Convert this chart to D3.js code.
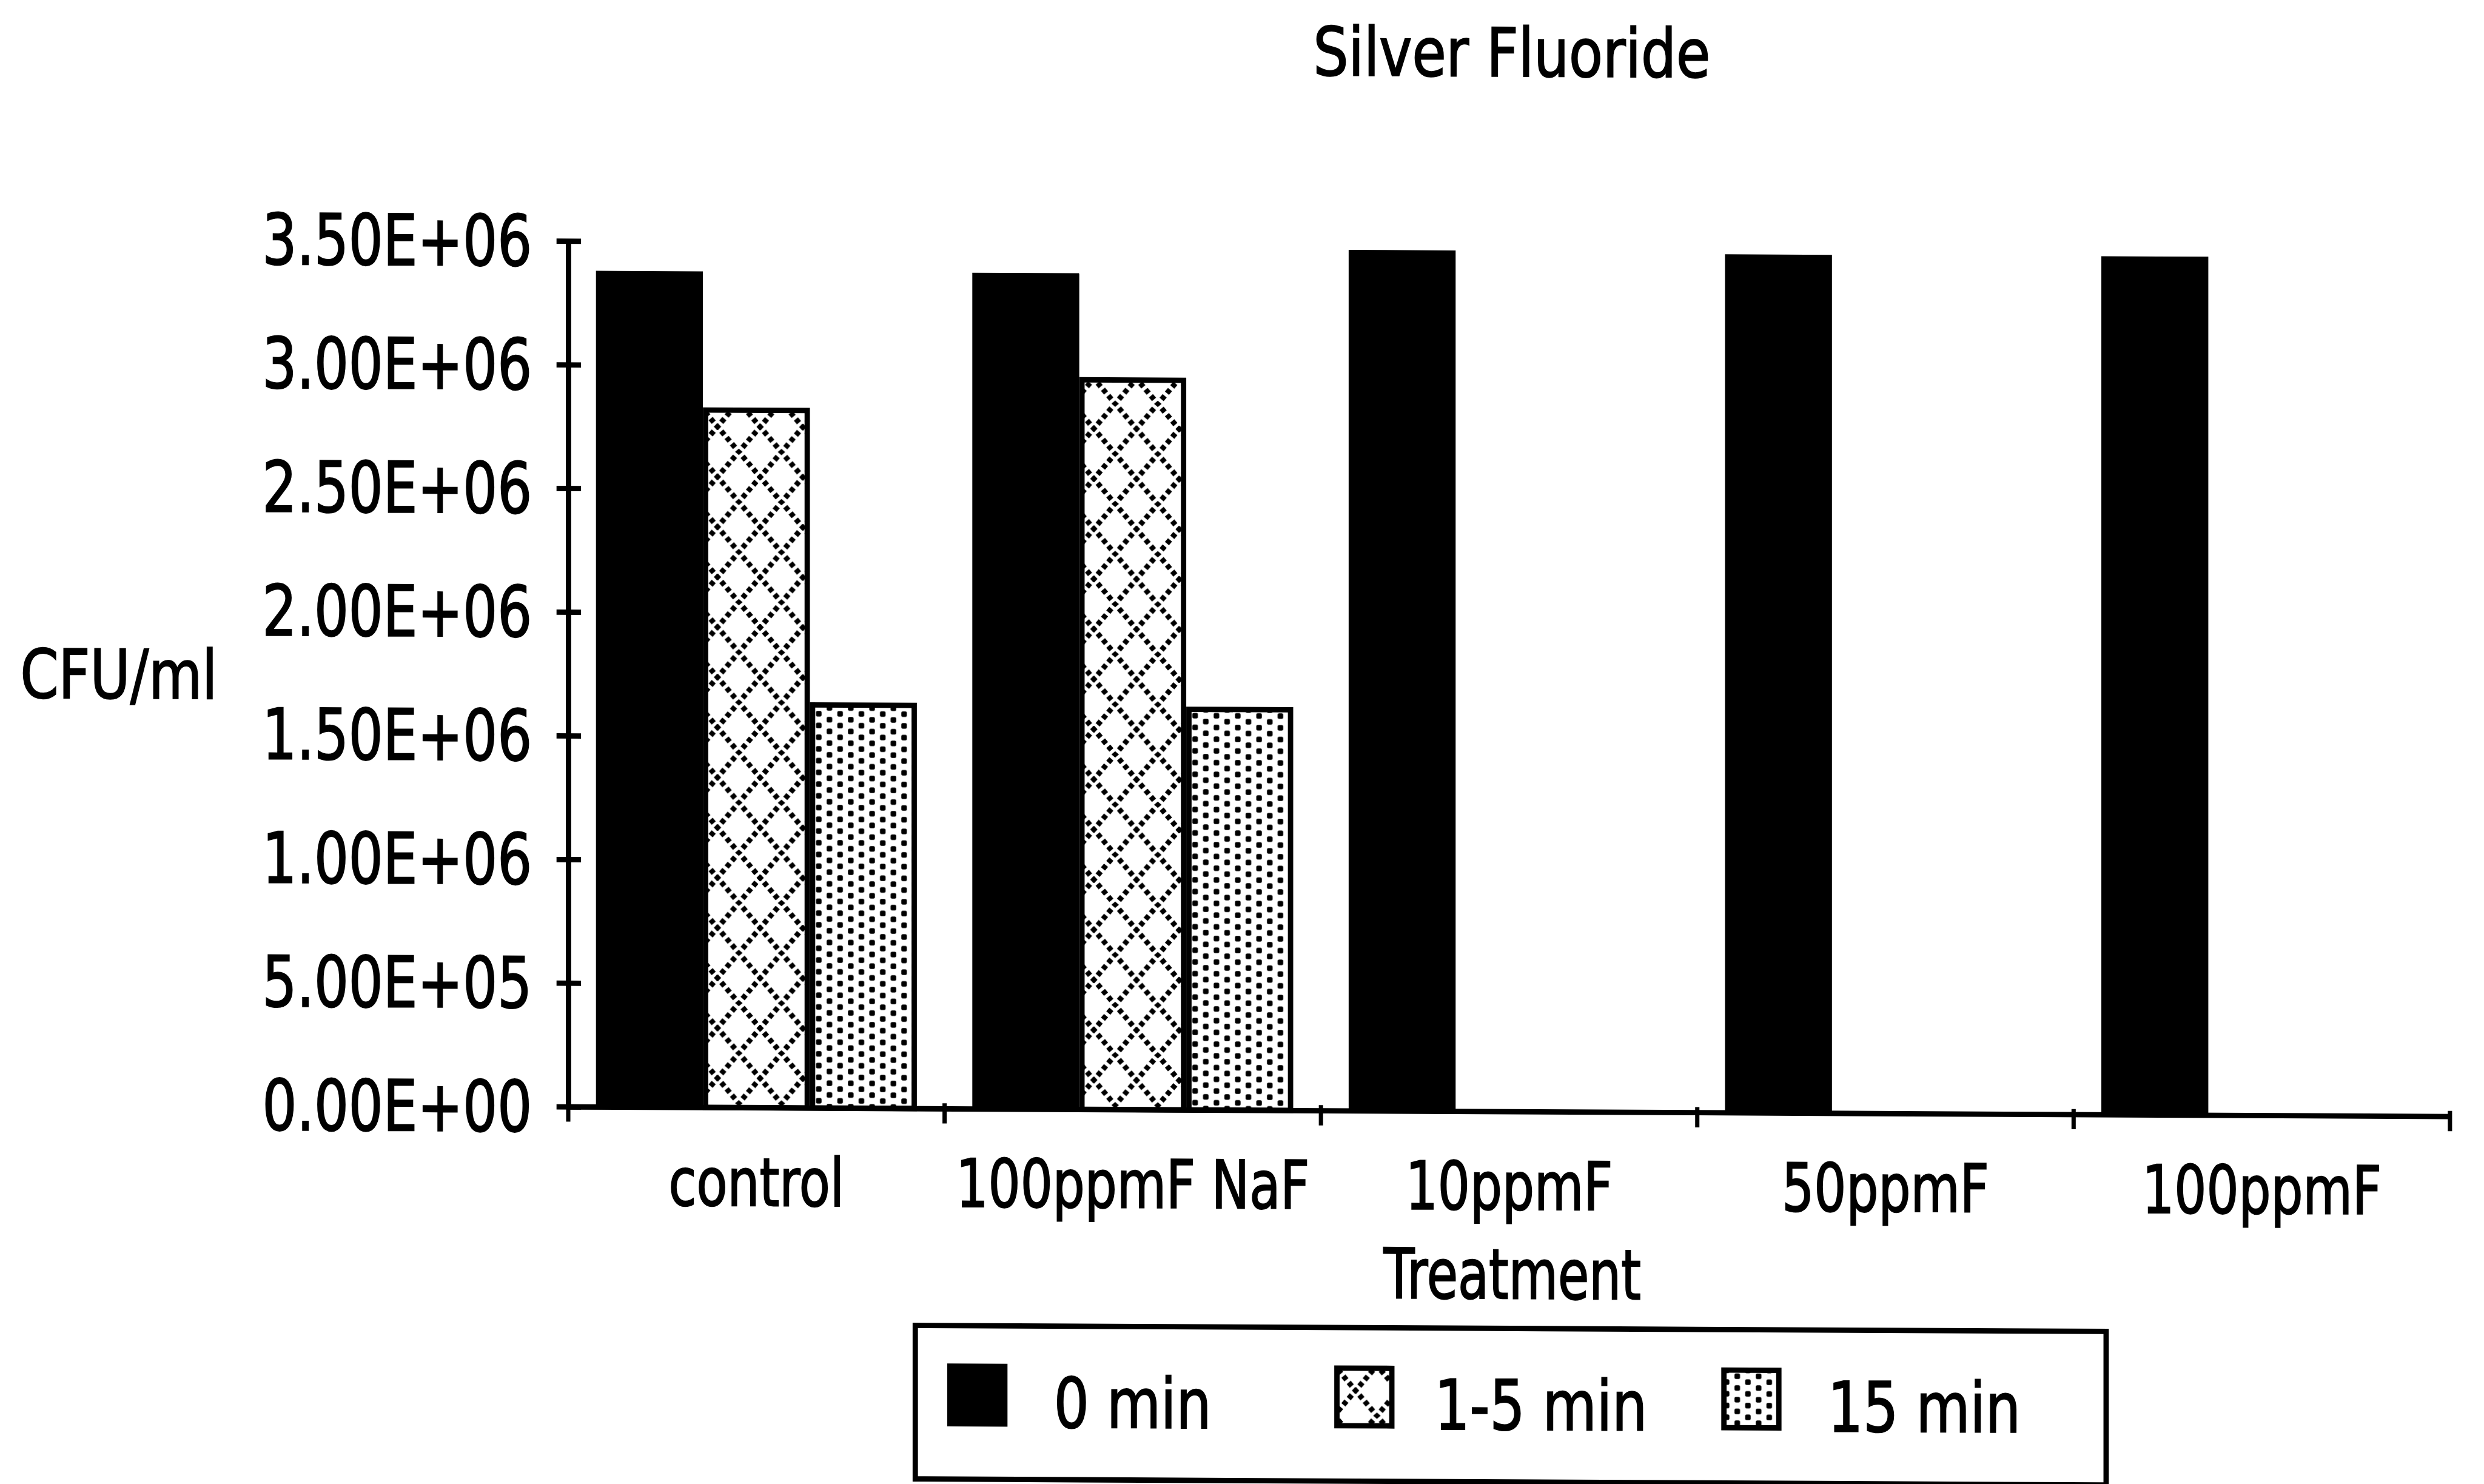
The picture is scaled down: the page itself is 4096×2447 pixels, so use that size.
<!DOCTYPE html>
<html>
<head>
<meta charset="utf-8">
<script src="https://cdn.jsdelivr.net/npm/d3@7"></script>
<style>
  html, body { margin: 0; padding: 0; background: #fff; }
  svg { display: block; }
</style>
</head>
<body>
<script>
// ---- data ----
const categories = ["control", "100ppmF NaF", "10ppmF", "50ppmF", "100ppmF"];
const seriesNames = ["0 min", "1-5 min", "15 min"];
const min0 = [3.38e6, 3.38e6, 3.48e6, 3.47e6, 3.47e6];
const min1to5 = [2.83e6, 2.96e6, 0, 0, 0];
const min15 = [1.64e6, 1.63e6, 0, 0, 0];
const yTickValues = [0, 5e5, 1e6, 1.5e6, 2e6, 2.5e6, 3e6, 3.5e6];
const yTickLabels = ["0.00E+00", "5.00E+05", "1.00E+06", "1.50E+06",
                     "2.00E+06", "2.50E+06", "3.00E+06", "3.50E+06"];
const chartTitle = "Silver Fluoride";
const xTitle = "Treatment";
const yTitle = "CFU/ml";

// ---- layout (drawing units, scaled down to the window) ----
const W = 4096, H = 2447, S = 0.879;
const lean = 0.0051;                       // the drawing leans slightly downward to the right
const plot = { left: 1066, right: 4596, top: 452, bottom: 2076 };
const FONT = "DejaVu Sans";

const table = categories.map((c, i) => ({
  category: c,
  values: [min0[i], min1to5[i], min15[i]]
}));

const svg = d3.select("body").append("svg")
  .attr("width", W).attr("height", H)
  .attr("viewBox", `0 0 ${W} ${H}`);
svg.append("rect").attr("width", W).attr("height", H).attr("fill", "#fff");

const defs = svg.append("defs");

// dotted diamond lattice for "1-5 min"
{
  const cw = 80, ch = 94;
  const L = Math.hypot(cw, ch), per = L / 8, dash = per * 0.58;
  const p = defs.append("pattern").attr("id", "pat-cross")
    .attr("patternUnits", "userSpaceOnUse").attr("width", cw).attr("height", ch);
  p.append("rect").attr("width", cw).attr("height", ch).attr("fill", "#fff");
  p.selectAll("line").data([[0, 0, cw, ch], [cw, 0, 0, ch]]).join("line")
    .attr("x1", d => d[0]).attr("y1", d => d[1])
    .attr("x2", d => d[2]).attr("y2", d => d[3])
    .attr("stroke", "#000").attr("stroke-width", 10)
    .attr("stroke-dasharray", `${dash} ${per - dash}`)
    .attr("stroke-dashoffset", dash / 2);
}
// staggered dot screen for "15 min"
{
  const dw = 40, dh = 22, s = 10.5;
  const p = defs.append("pattern").attr("id", "pat-dots")
    .attr("patternUnits", "userSpaceOnUse").attr("width", dw).attr("height", dh);
  p.append("rect").attr("width", dw).attr("height", dh).attr("fill", "#fff");
  p.selectAll("rect.dot").data([[10, 5.5], [30, 16.5]]).join("rect")
    .attr("class", "dot")
    .attr("x", d => d[0] - s / 2).attr("y", d => d[1] - s / 2)
    .attr("width", s).attr("height", s).attr("rx", 3).attr("fill", "#000");
}
const fills = ["#000", "url(#pat-cross)", "url(#pat-dots)"];

const root = svg.append("g")
  .attr("transform", `scale(${S}) translate(0,${-plot.left * lean}) skewY(${Math.atan(lean) * 180 / Math.PI})`);

// squeeze text horizontally to the narrow face used on the chart
function squeeze(sel, k) {
  sel.each(function () {
    const w = this.getComputedTextLength();
    d3.select(this).attr("textLength", w * k).attr("lengthAdjust", "spacingAndGlyphs");
  });
}
function ink(sel) {
  sel.attr("fill", "#000").attr("stroke", "#000").attr("stroke-width", 2.5);
}

// ---- scales ----
const x0 = d3.scaleBand().domain(categories).range([plot.left, plot.right]).padding(0);
const x1 = d3.scaleBand().domain(seriesNames).range([52, x0.bandwidth() - 52]).padding(0);
const y = d3.scaleLinear().domain([0, 3.5e6]).range([plot.bottom, plot.top]);

// ---- bars ----
const OUT = 10;
const groups = root.append("g").selectAll("g").data(table).join("g")
  .attr("transform", d => `translate(${x0(d.category)},0)`);
groups.selectAll("rect")
  .data(d => d.values.map((v, i) => ({ v, i, name: seriesNames[i] })))
  .join("rect")
  .attr("x", d => x1(d.name) + (d.i === 0 ? 0 : OUT / 2))
  .attr("width", d => x1.bandwidth() - (d.i === 0 ? 0 : OUT))
  .attr("y", d => y(d.v) + (d.i === 0 ? 0 : OUT / 2))
  .attr("height", d => Math.max(0, y(0) - y(d.v) - (d.i === 0 ? 0 : OUT / 2)))
  .attr("fill", d => fills[d.i])
  .attr("stroke", d => d.i === 0 ? "none" : "#000")
  .attr("stroke-width", OUT);

// ---- y axis ----
const yAxis = root.append("g").attr("transform", `translate(${plot.left},0)`)
  .call(d3.axisLeft(y).tickValues(yTickValues)
    .tickFormat((d, i) => yTickLabels[i]).tickSizeOuter(0));
yAxis.attr("font-family", null).attr("font-size", null);
yAxis.select(".domain").attr("stroke", "#000").attr("stroke-width", 10);
yAxis.selectAll(".tick line").attr("x1", -22).attr("x2", 24)
  .attr("stroke", "#000").attr("stroke-width", 10);
yAxis.selectAll(".tick text")
  .attr("x", -68).attr("dy", null).attr("y", 46)
  .attr("font-family", FONT).attr("font-size", 132)
  .attr("text-anchor", "end")
  .attr("textLength", 506).attr("lengthAdjust", "spacingAndGlyphs")
  .call(ink);

// ---- x axis ----
const xAxis = root.append("g").attr("transform", `translate(0,${plot.bottom})`)
  .call(d3.axisBottom(x0).tickSize(0).tickSizeOuter(0));
xAxis.attr("font-family", null).attr("font-size", null);
xAxis.select(".domain").attr("stroke", "#000").attr("stroke-width", 10);
const xLabels = xAxis.selectAll(".tick text")
  .attr("y", 184).attr("dy", null)
  .attr("font-family", FONT).attr("font-size", 125).call(ink);
squeeze(xLabels, 0.76);
// category boundary ticks
xAxis.append("g").selectAll("line")
  .data(categories.map(c => x0(c)).concat([x0.range()[1]]))
  .join("line")
  .attr("x1", d => d).attr("x2", d => d)
  .attr("y1", -10).attr("y2", 28)
  .attr("stroke", "#000").attr("stroke-width", 8);

// ---- titles ----
const titleMid = (plot.left + plot.right) / 2 + 5;
squeeze(root.append("text").text(chartTitle)
  .attr("x", titleMid).attr("y", 134).attr("text-anchor", "middle")
  .attr("font-family", FONT).attr("font-size", 126).call(ink), 0.825);
squeeze(root.append("text").text(xTitle)
  .attr("x", titleMid + 1).attr("y", 2427).attr("text-anchor", "middle")
  .attr("font-family", FONT).attr("font-size", 130).call(ink), 0.73);
squeeze(root.append("text").text(yTitle)
  .attr("x", 38).attr("y", 1314).attr("text-anchor", "start")
  .attr("font-family", FONT).attr("font-size", 127).call(ink), 0.81);

// ---- legend ----
const lg = { x: 1712, y: 2478, w: 2244, h: 298 };
const legend = root.append("g").attr("transform", `translate(${lg.x},${lg.y})`);
legend.append("rect")
  .attr("x", 5).attr("y", 5).attr("width", lg.w - 10).attr("height", lg.h - 10)
  .attr("fill", "#fff").attr("stroke", "#000").attr("stroke-width", 10);
const items = legend.selectAll("g.item").data(seriesNames).join("g")
  .attr("class", "item")
  .attr("transform", (d, i) => `translate(${65 + i * 726},76)`);
items.append("rect")
  .attr("x", (d, i) => i === 0 ? 0 : 5).attr("y", (d, i) => i === 0 ? 0 : 5)
  .attr("width", (d, i) => i === 0 ? 113 : 103)
  .attr("height", (d, i) => i === 0 ? 118 : 108)
  .attr("fill", (d, i) => fills[i])
  .attr("stroke", (d, i) => i === 0 ? "none" : "#000")
  .attr("stroke-width", 10);
const legendText = items.append("text").text(d => d)
  .attr("x", (d, i) => i === 1 ? 188 : 200).attr("y", 119)
  .attr("font-family", FONT).attr("font-size", 130).call(ink);
squeeze(legendText, 0.8);
</script>
</body>
</html>
